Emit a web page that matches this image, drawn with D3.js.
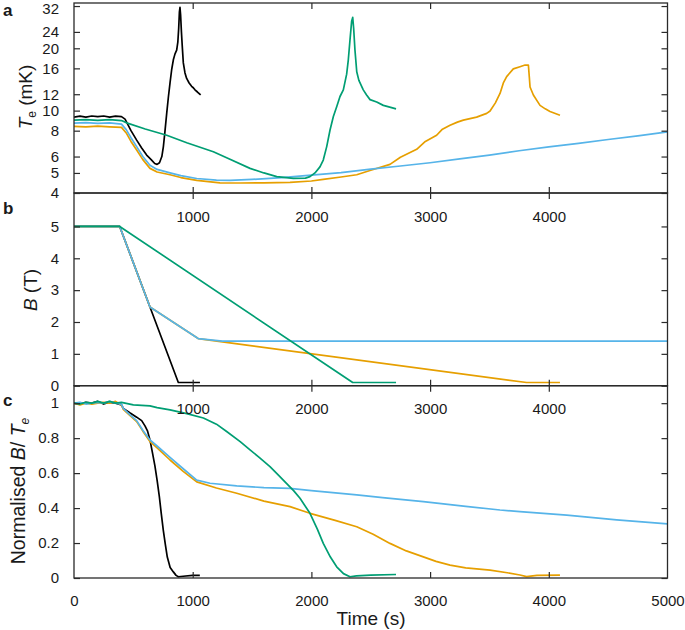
<!DOCTYPE html>
<html><head><meta charset="utf-8">
<script src="https://cdn.jsdelivr.net/npm/d3@7"></script>
<style>
html,body{margin:0;padding:0;background:#fff;}
text{font-family:"Liberation Sans",Arial,Helvetica,sans-serif;fill:#1a1a1a;}
</style></head>
<body>
<svg id="chart" width="685" height="630"></svg>
<script>
// ---------- data ----------
const timeDomain = [0, 5000];
const innerTimeTicks = [1000, 2000, 3000, 4000];
const bottomTimeTicks = [0, 1000, 2000, 3000, 4000, 5000];
const teTicks = [4, 5, 6, 8, 10, 12, 16, 20, 24, 32];
const bTicks = [0, 1, 2, 3, 4, 5];
const nTicks = [0, 0.2, 0.4, 0.6, 0.8, 1];
const nTickLabels = ["0", "0.2", "0.4", "0.6", "0.8", "1"];

const seriesNames = ["black", "orange", "blue", "teal"];
const seriesColors = ["#000000", "#E69F00", "#56B4E9", "#009E73"];

// Panel a: electron temperature (mK)
const blackTe = [[0,9.3],[50,9.4],[100,9.3],[150,9.42],[200,9.35],[250,9.42],[300,9.3],[350,9.4],[400,9.35],[430,9.1],[480,8.0],[528,7.2],[570,6.6],[612,6.1],[650,5.8],[680,5.55],[700,5.5],[720,5.6],[740,6.0],[753,6.7],[765,7.8],[781,9.7],[795,11.6],[809,13.6],[823,15.8],[837,17.6],[851,18.8],[865,19.6],[875,21.5],[882,25],[888,30],[893,31.5],[898,29],[905,24],[912,20.5],[921,17.0],[935,15.2],[949,14.3],[970,13.6],[991,13.1],[1005,12.9],[1019,12.6],[1040,12.3],[1067,11.9]];
const orangeTe = [[0,8.4],[100,8.35],[200,8.42],[300,8.35],[400,8.3],[440,7.8],[480,7.1],[528,6.45],[580,5.8],[640,5.26],[700,5.05],[809,4.9],[900,4.75],[1034,4.6],[1230,4.48],[1400,4.47],[1600,4.48],[1820,4.5],[2000,4.57],[2100,4.65],[2250,4.78],[2382,4.9],[2500,5.15],[2662,5.5],[2750,5.95],[2887,6.5],[2960,7.1],[3055,7.6],[3100,8.1],[3168,8.5],[3230,8.8],[3280,9.0],[3392,9.3],[3477,9.7],[3505,9.95],[3550,10.9],[3589,12.1],[3617,13.6],[3645,14.6],[3701,15.9],[3757,16.3],[3800,16.6],[3828,16.6],[3836,14.5],[3842,13.0],[3870,11.9],[3926,10.6],[3970,10.2],[4010,9.9],[4094,9.5]];
const blueTe = [[0,8.7],[100,8.75],[200,8.68],[300,8.72],[400,8.6],[440,8.1],[480,7.4],[528,6.7],[580,6.0],[640,5.45],[700,5.2],[809,5.0],[900,4.85],[1034,4.7],[1200,4.62],[1314,4.6],[1500,4.65],[1750,4.75],[2000,4.88],[2250,5.02],[2500,5.22],[2750,5.4],[3000,5.6],[3250,5.85],[3500,6.1],[3750,6.4],[4000,6.68],[4250,6.95],[4500,7.25],[4750,7.55],[5000,7.9]];
const tealTe = [[0,9.0],[100,9.05],[200,8.98],[300,9.05],[400,8.95],[450,8.7],[600,8.15],[781,7.6],[950,7.0],[1174,6.33],[1300,5.87],[1483,5.26],[1600,5.0],[1708,4.8],[1848,4.71],[1950,4.72],[1988,4.8],[2030,5.0],[2072,5.35],[2100,5.77],[2129,6.7],[2157,8.06],[2185,9.36],[2213,10.45],[2241,11.7],[2269,12.6],[2297,15.0],[2311,17.6],[2325,21.9],[2339,27.0],[2348,28.2],[2356,25],[2367,19.6],[2382,15.4],[2400,14.0],[2437,12.6],[2465,11.9],[2494,11.3],[2550,11.0],[2606,10.6],[2660,10.4],[2713,10.2]];

// Panel b: magnetic field (T)
const blackB = [[0,5],[385,5],[640,2.47],[879,0.1],[1061,0.1]];
const orangeB = [[0,5],[385,5],[640,2.47],[1046,1.48],[3813,0.1],[4094,0.1]];
const blueB = [[0,5],[385,5],[640,2.47],[1046,1.48],[1250,1.4],[5000,1.4]];
const tealB = [[0,5],[385,5],[2348,0.1],[2713,0.1]];

// Panel c: normalised B/Te
const blackN = [[0,1.0],[50,0.995],[100,1.005],[150,1.0],[200,1.01],[250,0.995],[300,1.005],[350,1.0],[400,0.99],[415,0.97],[470,0.945],[528,0.92],[570,0.9],[598,0.87],[620,0.84],[640,0.79],[660,0.72],[682,0.64],[700,0.56],[719,0.465],[735,0.37],[753,0.27],[770,0.19],[786,0.12],[810,0.06],[837,0.035],[860,0.015],[879,0.007],[920,0.01],[1000,0.015],[1060,0.015]];
const orangeN = [[0,1.0],[50,0.99],[100,1.0],[150,0.995],[200,1.0],[250,1.005],[300,1.0],[350,1.01],[400,0.99],[415,0.965],[470,0.93],[528,0.895],[580,0.84],[640,0.78],[700,0.745],[809,0.675],[920,0.61],[1034,0.55],[1200,0.515],[1371,0.485],[1600,0.44],[1820,0.408],[1988,0.37],[2200,0.33],[2382,0.293],[2520,0.25],[2662,0.198],[2800,0.155],[2943,0.121],[3050,0.095],[3168,0.074],[3300,0.058],[3505,0.045],[3650,0.03],[3757,0.017],[3813,0.008],[3900,0.015],[4094,0.017]];
const blueN = [[0,1.0],[50,1.005],[100,0.995],[150,1.0],[200,1.005],[250,1.0],[300,1.01],[350,1.0],[400,0.995],[415,0.97],[470,0.935],[528,0.9],[580,0.845],[640,0.79],[700,0.755],[809,0.69],[920,0.625],[1034,0.56],[1146,0.542],[1371,0.527],[1600,0.517],[1820,0.513],[2000,0.5],[2382,0.475],[2600,0.46],[2943,0.437],[3300,0.41],[3589,0.389],[3757,0.38],[4151,0.36],[4572,0.332],[5000,0.31]];
const tealN = [[0,1.0],[50,0.995],[100,1.005],[150,1.0],[200,1.01],[250,1.0],[300,1.01],[350,1.0],[400,1.005],[500,0.99],[640,0.985],[700,0.975],[809,0.962],[950,0.94],[1090,0.915],[1200,0.88],[1286,0.838],[1400,0.78],[1483,0.733],[1560,0.69],[1651,0.637],[1720,0.59],[1792,0.54],[1850,0.5],[1904,0.456],[1988,0.37],[2050,0.28],[2100,0.198],[2160,0.12],[2213,0.064],[2270,0.025],[2325,0.007],[2380,0.012],[2500,0.016],[2713,0.02]];

const teSeries = [blackTe, orangeTe, blueTe, tealTe];
const bSeries = [blackB, orangeB, blueB, tealB];
const nSeries = [blackN, orangeN, blueN, tealN];

// ---------- layout ----------
const svg = d3.select("#chart");
const left = 74, right = 667.5;
const pA = {top: 3, bottom: 193};
const pB = {top: 193, bottom: 385.7};
const pC = {top: 385.7, bottom: 578};
const tickLen = 6;
const frameColor = "#2a2a2a";
const tickFont = 15;

const x = d3.scaleLinear().domain(timeDomain).range([left, right]);
const yA = d3.scaleLog().domain([4, 33.1]).range([pA.bottom, pA.top]);
const yB = d3.scaleLinear().domain([0, 6.05]).range([pB.bottom, pB.top]);
const yC = d3.scaleLinear().domain([0, 1.1]).range([pC.bottom, pC.top]);

const defs = svg.append("defs");
[["clipA", pA], ["clipB", pB], ["clipC", pC]].forEach(([id, p]) => {
  defs.append("clipPath").attr("id", id).append("rect")
    .attr("x", left).attr("y", p.top).attr("width", right - left).attr("height", p.bottom - p.top);
});

function drawPanel(p, y, series, clipId, yTicks, yLabels) {
  const g = svg.append("g");
  const lines = g.append("g").attr("clip-path", `url(#${clipId})`);
  series.forEach((s, i) => {
    lines.append("path")
      .attr("d", d3.line().x(d => x(d[0])).y(d => y(d[1]))(s))
      .attr("fill", "none").attr("stroke", seriesColors[i])
      .attr("stroke-width", 1.7).attr("stroke-linejoin", "round");
  });
  const axL = d3.axisLeft(y).tickValues(yTicks).tickSize(-tickLen).tickPadding(15)
    .tickFormat((d, i) => yLabels[i]);
  const gl = g.append("g").attr("transform", `translate(${left},0)`).call(axL);
  const axR = d3.axisRight(y).tickValues(yTicks).tickSize(-tickLen).tickFormat("");
  const gr = g.append("g").attr("transform", `translate(${right},0)`).call(axR);
  [gl, gr].forEach(a => {
    a.select(".domain").remove();
    a.selectAll(".tick line").attr("stroke", frameColor).attr("stroke-width", 1.2);
  });
  gl.selectAll(".tick text").attr("font-size", tickFont).attr("fill", "#1a1a1a")
    .attr("font-family", "Liberation Sans, Arial, sans-serif")
    .attr("y", d => Math.max(0, 8.5 - y(d)));
  const axT = d3.axisTop(x).tickValues(innerTimeTicks).tickSize(-tickLen).tickFormat("");
  const gt = g.append("g").attr("transform", `translate(0,${p.top})`).call(axT);
  const axBm = d3.axisBottom(x).tickValues(innerTimeTicks).tickSize(-tickLen).tickFormat("");
  const gb = g.append("g").attr("transform", `translate(0,${p.bottom})`).call(axBm);
  [gt, gb].forEach(a => {
    a.select(".domain").remove();
    a.selectAll(".tick line").attr("stroke", frameColor).attr("stroke-width", 1.2);
  });
  g.append("rect").attr("x", left).attr("y", p.top).attr("width", right - left)
    .attr("height", p.bottom - p.top).attr("fill", "none")
    .attr("stroke", frameColor).attr("stroke-width", 1.3);
  return g;
}

drawPanel(pA, yA, teSeries, "clipA", teTicks, teTicks.map(String));
drawPanel(pB, yB, bSeries, "clipB", bTicks, bTicks.map(String));
drawPanel(pC, yC, nSeries, "clipC", nTicks, nTickLabels);

function xLabels(yPos, ticks) {
  const ax = d3.axisBottom(x).tickValues(ticks).tickSize(0).tickPadding(0).tickFormat(d3.format("d"));
  const g = svg.append("g").attr("transform", `translate(0,${yPos})`).call(ax);
  g.select(".domain").remove();
  g.selectAll(".tick text").attr("font-size", tickFont).attr("fill", "#1a1a1a")
    .attr("font-family", "Liberation Sans, Arial, sans-serif").attr("dy", "0.35em").attr("y", 0);
}
xLabels(pA.bottom + 23.5, innerTimeTicks);
xLabels(pB.bottom + 23.5, innerTimeTicks);
xLabels(pC.bottom + 23, bottomTimeTicks);

// axis titles
svg.append("text").attr("x", 371).attr("y", 625).attr("text-anchor", "middle")
  .attr("font-size", 19).text("Time (s)");

function yTitle(cx, cy, parts, size) {
  const t = svg.append("text").attr("transform", `translate(${cx},${cy}) rotate(-90)`)
    .attr("text-anchor", "middle").attr("font-size", size);
  parts.forEach(p => {
    const ts = t.append("tspan").text(p.t);
    if (p.i) ts.attr("font-style", "italic");
    if (p.sub) ts.attr("font-size", 12).attr("dy", 4);
    if (p.up) ts.attr("dy", -4);
  });
}
yTitle(32, 97, [{t: "T", i: true}, {t: "e", sub: true}, {t: " (mK)", up: true}], 19);
yTitle(37, 290, [{t: "B", i: true}, {t: " (T)"}], 19);
yTitle(25, 491, [{t: "Normalised "}, {t: "B", i: true}, {t: "/ "}, {t: "T", i: true}, {t: "e", sub: true, i: true}], 19.5);

// panel letters
[["a", 16], ["b", 214], ["c", 406]].forEach(([l, yy]) => {
  svg.append("text").attr("x", 3).attr("y", yy).attr("font-size", 17)
    .attr("font-weight", "bold").text(l);
});
</script>
</body></html>
